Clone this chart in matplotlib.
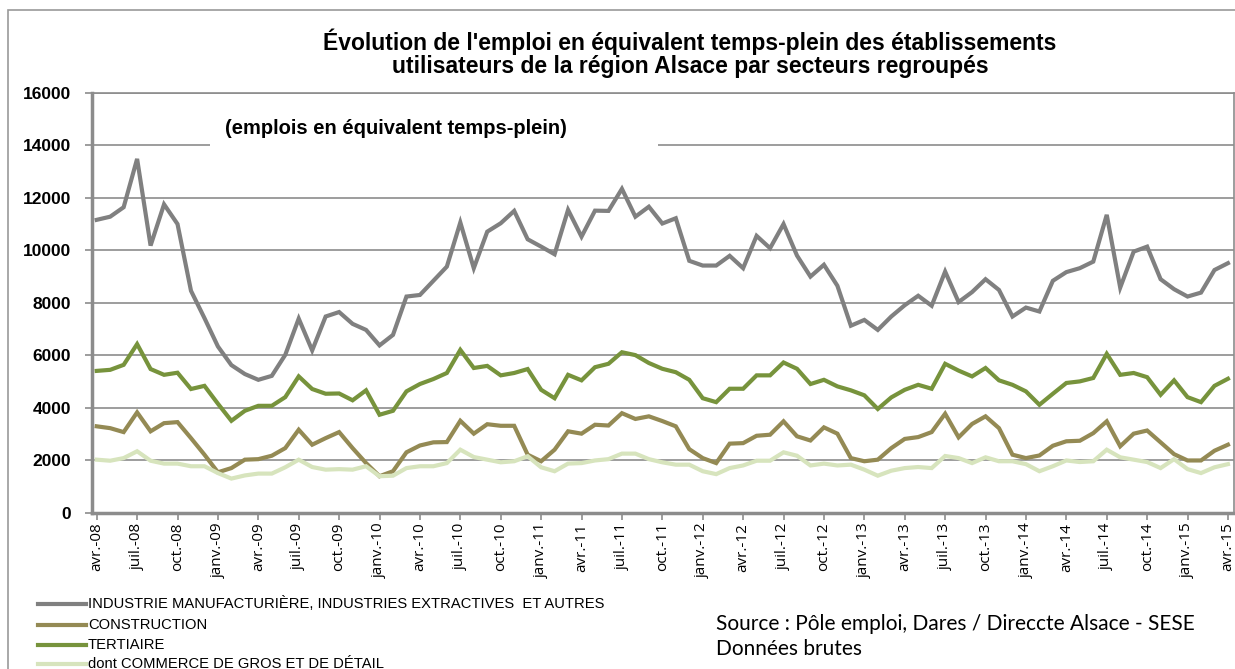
import matplotlib
matplotlib.use("Agg")
import matplotlib.pyplot as plt
from matplotlib.patches import Rectangle
import matplotlib.lines as mlines

# ---- data (monthly, avr-08 .. avr-15) ----
industrie = [11160, 11280, 11640, 13480, 10180, 11750, 11000, 8460, 7420, 6340,
             5630, 5290, 5070, 5220, 6020, 7400, 6190, 7480, 7650, 7200,
             6970, 6380, 6780, 8240, 8300, 8840, 9380, 11060, 9320, 10710,
             11030, 11500, 10420, 10140, 9850, 11540, 10520, 11510, 11500, 12340,
             11280, 11660, 11020, 11220, 9600, 9420, 9420, 9790, 9320, 10550,
             10080, 11000, 9800, 9000, 9450, 8650, 7130, 7350, 6970, 7480,
             7910, 8270, 7890, 9190, 8030, 8410, 8900, 8490, 7480, 7820,
             7670, 8840, 9170, 9320, 9570, 11350, 8580, 9950, 10140, 8900,
             8520, 8240, 8390, 9250, 9510]
construction = [3300, 3230, 3080, 3830, 3110, 3420, 3460, 2850, 2220, 1550,
                1710, 2030, 2050, 2180, 2470, 3170, 2600, 2850, 3080, 2470,
                1900, 1400, 1590, 2310, 2570, 2690, 2700, 3510, 3020, 3380,
                3320, 3320, 2220, 1970, 2410, 3110, 3020, 3360, 3330, 3800,
                3580, 3680, 3500, 3300, 2430, 2090, 1900, 2640, 2660, 2940,
                2980, 3490, 2920, 2760, 3260, 3020, 2090, 1970, 2030, 2470,
                2820, 2890, 3080, 3780, 2880, 3390, 3680, 3230, 2220, 2090,
                2190, 2560, 2730, 2750, 3040, 3490, 2540, 3020, 3140, 2690,
                2240, 2000, 2000, 2370, 2600]
tertiaire = [5410, 5450, 5640, 6430, 5480, 5260, 5340, 4720, 4840, 4160,
             3510, 3890, 4080, 4080, 4410, 5200, 4720, 4540, 4550, 4290,
             4670, 3740, 3890, 4630, 4910, 5100, 5330, 6210, 5520, 5600,
             5240, 5330, 5480, 4690, 4370, 5260, 5050, 5550, 5680, 6120,
             6010, 5710, 5490, 5360, 5070, 4370, 4220, 4730, 4730, 5240,
             5240, 5730, 5490, 4910, 5070, 4820, 4670, 4480, 3960, 4400,
             4690, 4880, 4730, 5680, 5420, 5200, 5520, 5050, 4880, 4630,
             4120, 4540, 4950, 5010, 5140, 6060, 5260, 5330, 5170, 4500,
             5050, 4410, 4220, 4840, 5110]
commerce = [2030, 1990, 2090, 2350, 1990, 1880, 1880, 1780, 1780, 1520,
            1310, 1430, 1500, 1500, 1740, 2030, 1750, 1650, 1670, 1650,
            1780, 1400, 1420, 1710, 1780, 1780, 1900, 2410, 2130, 2030,
            1930, 1970, 2160, 1740, 1590, 1880, 1900, 2000, 2050, 2260,
            2260, 2050, 1930, 1840, 1840, 1590, 1480, 1710, 1810, 1990,
            1990, 2310, 2180, 1810, 1880, 1810, 1840, 1650, 1420, 1610,
            1710, 1750, 1710, 2170, 2090, 1900, 2120, 1970, 1970, 1860,
            1590, 1780, 2000, 1940, 1970, 2410, 2120, 2030, 1940, 1710,
            2050, 1670, 1520, 1740, 1860]

month_names = ["janv.", "févr.", "mars", "avr.", "mai", "juin",
               "juil.", "août", "sept.", "oct.", "nov.", "déc."]
start_year, start_month = 2008, 4
n = len(industrie)
months = []
for k in range(n):
    m = (start_month - 1 + k) % 12
    y = start_year + (start_month - 1 + k) // 12
    months.append(f"{month_names[m]}-{y % 100:02d}")

series_names = ["INDUSTRIE MANUFACTURIÈRE, INDUSTRIES EXTRACTIVES  ET AUTRES",
                "CONSTRUCTION", "TERTIAIRE", "dont COMMERCE DE GROS ET DE DÉTAIL"]
series_colors = ["#808080", "#948A54", "#77933C", "#D7E4BD"]
y_ticks = [0, 2000, 4000, 6000, 8000, 10000, 12000, 14000, 16000]

W, H = 1235, 669
fig = plt.figure(figsize=(W / 100, H / 100), dpi=100)

# figure border
fig.add_artist(Rectangle((8 / W, -0.01), 1.02, (H - 10) / H + 0.01, transform=fig.transFigure,
                         fill=False, ec="#9a9a9a", lw=1.2))

ax = fig.add_axes([92 / W, (H - 513) / H, (1234 - 92) / W, (513 - 92.7) / H])
x = list(range(n))
for data, col in zip([industrie, construction, tertiaire, commerce], series_colors):
    ax.plot(x, data, color=col, lw=3.0, solid_joinstyle="miter", zorder=3)

ax.set_xlim(-0.35, 84.45)
ax.set_ylim(0, 16000)
ax.set_yticks(y_ticks)
ax.set_yticklabels([str(v) for v in y_ticks], fontsize=12.5, fontweight="bold",
                   family="Liberation Sans")
ax.yaxis.grid(True, color="#8c8c8c", lw=1.2, zorder=1)
ax.set_axisbelow(True)
tick_pos = list(range(0, n, 3))
ax.set_xticks(tick_pos)
ax.set_xticklabels([months[i] for i in tick_pos], rotation=90, fontsize=11,
                   family="Open Sans")
ax.tick_params(axis="x", length=5, width=1.2, color="#8c8c8c", pad=2)
ax.tick_params(axis="y", length=5, width=1.2, color="#8c8c8c", pad=10)
for s in ["left", "bottom"]:
    ax.spines[s].set_color("#8c8c8c")
    ax.spines[s].set_linewidth(2.5)
for s in ["top", "right"]:
    ax.spines[s].set_color("#8c8c8c")
    ax.spines[s].set_linewidth(1.2)

# title
fig.text(690 / W, 1 - 42 / H, "Évolution de l'emploi en équivalent temps-plein des établissements",
         ha="center", va="center", fontsize=16.5, fontweight="bold", family="Liberation Sans")
fig.text(690 / W, 1 - 67 / H, "utilisateurs de la région Alsace par secteurs regroupés",
         ha="center", va="center", fontsize=16.5, fontweight="bold", family="Liberation Sans")

# subtitle with white box
fig.add_artist(Rectangle((210 / W, 1 - 152 / H), (658 - 210) / W, 42 / H,
                         transform=fig.transFigure, fc="white", ec="none", zorder=5))
fig.text(225 / W, 1 - 128 / H, "(emplois en équivalent temps-plein)", ha="left", va="center",
         fontsize=14.5, fontweight="bold", family="Liberation Sans", zorder=6)

# legend
leg_y = [604, 625, 645, 664]
for name, col, yy in zip(series_names, series_colors, leg_y):
    fig.add_artist(mlines.Line2D([38 / W, 86 / W], [1 - yy / H, 1 - yy / H], color=col, lw=3.0,
                                 transform=fig.transFigure))
    fig.text(88 / W, 1 - yy / H, name, ha="left", va="center", fontsize=10.6,
             family=["Liberation Sans Narrow", "Liberation Sans"])

# source
fig.text(716 / W, 1 - 624 / H, "Source : Pôle emploi, Dares / Direccte Alsace - SESE",
         ha="left", va="center", fontsize=15, family="Lato")
fig.text(716 / W, 1 - 649 / H, "Données brutes", ha="left", va="center", fontsize=15,
         family="Lato")

fig.savefig("out.png", dpi=100)
